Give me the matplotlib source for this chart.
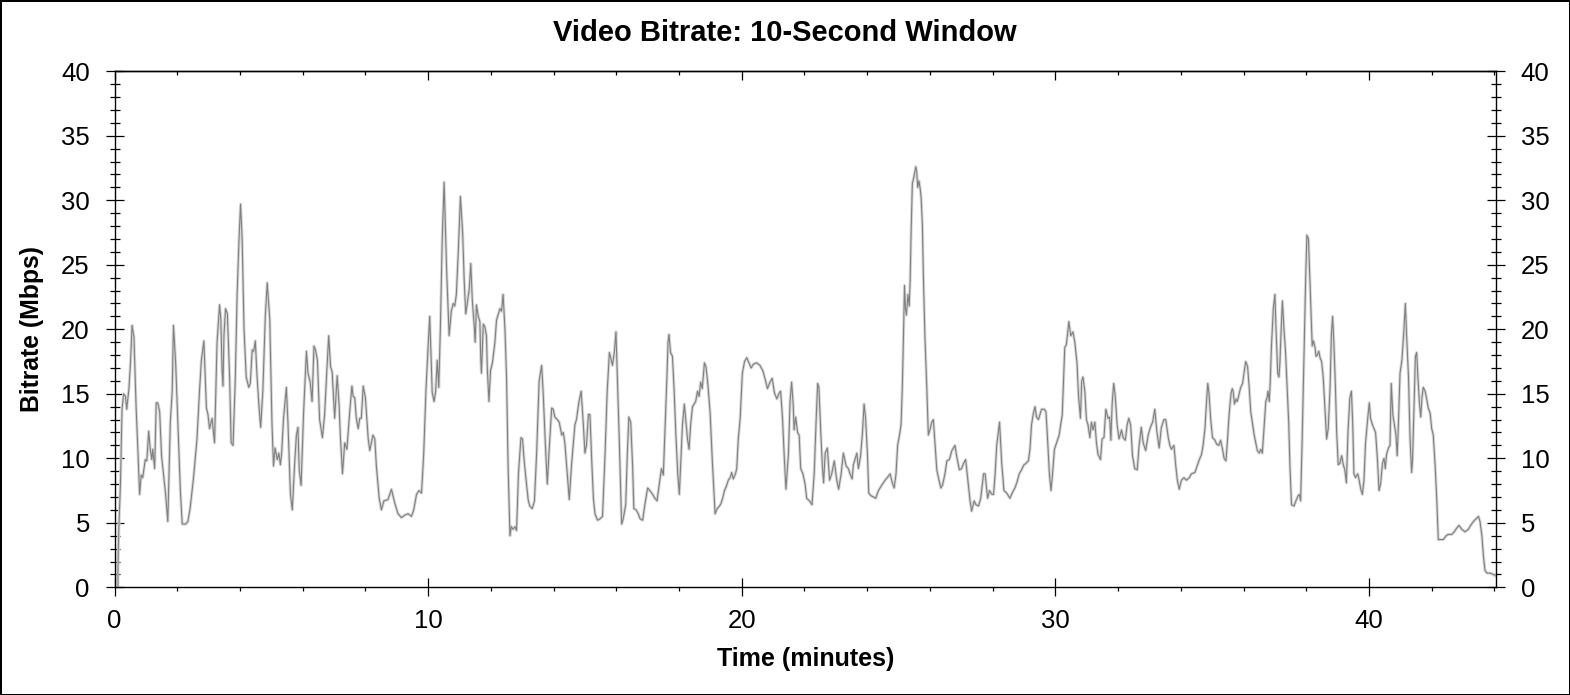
import matplotlib
matplotlib.use("Agg")
import matplotlib.pyplot as plt
from matplotlib.ticker import MultipleLocator

# ---- data ----
time_min = [
    0.11, 0.11, 0.14, 0.19, 0.24, 0.29, 0.35, 0.39, 0.46, 0.51, 0.56, 0.62, 0.69, 0.74, 0.80,
    0.85, 0.90, 0.98, 1.03, 1.09, 1.14, 1.19, 1.22, 1.28, 1.33, 1.38, 1.44, 1.50, 1.56, 1.63,
    1.70, 1.78, 1.84, 1.88, 1.95, 2.02, 2.10, 2.16, 2.27, 2.34, 2.41, 2.52, 2.63, 2.71, 2.77,
    2.85, 2.93, 2.98, 3.03, 3.11, 3.19, 3.27, 3.35, 3.39, 3.43, 3.46, 3.49, 3.54, 3.60, 3.67,
    3.72, 3.78, 3.85, 3.91, 3.97, 4.02, 4.07, 4.13, 4.20, 4.28, 4.33, 4.39, 4.44, 4.49, 4.54,
    4.61, 4.66, 4.73, 4.81, 4.87, 4.95, 5.02, 5.07, 5.12, 5.19, 5.24, 5.29, 5.33, 5.39, 5.48,
    5.53, 5.61, 5.67, 5.74, 5.80, 5.85, 5.89, 5.95, 6.03, 6.12, 6.17, 6.24, 6.30, 6.36, 6.41,
    6.47, 6.54, 6.63, 6.70, 6.76, 6.83, 6.89, 6.94, 7.02, 7.10, 7.16, 7.20, 7.27, 7.34, 7.41,
    7.50, 7.57, 7.61, 7.66, 7.71, 7.77, 7.82, 7.87, 7.93, 8.00, 8.09, 8.14, 8.19, 8.24, 8.30,
    8.35, 8.44, 8.51, 8.59, 8.72, 8.83, 8.94, 9.04, 9.15, 9.26, 9.36, 9.47, 9.54, 9.63, 9.71,
    9.79, 9.86, 9.93, 10.00, 10.05, 10.09, 10.13, 10.19, 10.24, 10.29, 10.34, 10.39, 10.45, 10.51,
    10.59, 10.67, 10.74, 10.80, 10.85, 10.90, 10.96, 11.03, 11.10, 11.15, 11.20, 11.26, 11.31, 11.36,
    11.41, 11.47, 11.50, 11.54, 11.60, 11.65, 11.68, 11.70, 11.76, 11.81, 11.86, 11.89, 11.94, 11.99,
    12.05, 12.13, 12.18, 12.23, 12.29, 12.34, 12.39, 12.45, 12.50, 12.55, 12.61, 12.65, 12.71, 12.77,
    12.82, 12.88, 12.96, 13.01, 13.06, 13.12, 13.19, 13.24, 13.32, 13.39, 13.46, 13.54, 13.62, 13.67,
    13.74, 13.80, 13.86, 13.94, 13.99, 14.04, 14.12, 14.18, 14.26, 14.31, 14.36, 14.41, 14.50, 14.57,
    14.63, 14.68, 14.73, 14.81, 14.88, 14.95, 15.00, 15.05, 15.11, 15.16, 15.21, 15.27, 15.32, 15.40,
    15.48, 15.56, 15.64, 15.71, 15.78, 15.82, 15.88, 15.94, 15.99, 16.04, 16.10, 16.17, 16.22, 16.30,
    16.35, 16.40, 16.46, 16.52, 16.56, 16.63, 16.70, 16.76, 16.84, 16.91, 17.00, 17.07, 17.16, 17.23,
    17.30, 17.37, 17.44, 17.50, 17.55, 17.61, 17.65, 17.68, 17.73, 17.79, 17.84, 17.90, 17.96, 18.01,
    18.06, 18.11, 18.17, 18.21, 18.27, 18.32, 18.37, 18.43, 18.48, 18.53, 18.59, 18.64, 18.69, 18.74,
    18.81, 18.86, 18.91, 18.99, 19.06, 19.15, 19.22, 19.29, 19.34, 19.39, 19.45, 19.52, 19.57, 19.63,
    19.68, 19.73, 19.80, 19.84, 19.89, 19.95, 20.02, 20.09, 20.16, 20.23, 20.30, 20.37, 20.48, 20.58,
    20.67, 20.74, 20.82, 20.90, 20.97, 21.04, 21.12, 21.20, 21.24, 21.30, 21.36, 21.41, 21.49, 21.54,
    21.59, 21.64, 21.67, 21.72, 21.78, 21.83, 21.88, 21.95, 22.02, 22.07, 22.16, 22.24, 22.31, 22.37,
    22.42, 22.46, 22.52, 22.57, 22.61, 22.66, 22.73, 22.80, 22.87, 22.95, 23.03, 23.09, 23.17, 23.24,
    23.33, 23.40, 23.45, 23.52, 23.56, 23.61, 23.67, 23.72, 23.79, 23.85, 23.90, 23.95, 24.01, 24.05,
    24.12, 24.20, 24.27, 24.36, 24.46, 24.57, 24.64, 24.73, 24.80, 24.86, 24.92, 24.97, 25.03, 25.08,
    25.12, 25.15, 25.19, 25.22, 25.25, 25.30, 25.34, 25.37, 25.40, 25.44, 25.48, 25.51, 25.55, 25.58,
    25.61, 25.65, 25.69, 25.72, 25.76, 25.79, 25.84, 25.90, 25.95, 26.01, 26.06, 26.11, 26.16, 26.22,
    26.29, 26.35, 26.40, 26.48, 26.54, 26.62, 26.70, 26.80, 26.85, 26.94, 27.01, 27.07, 27.14, 27.21,
    27.28, 27.33, 27.41, 27.47, 27.55, 27.62, 27.71, 27.76, 27.84, 27.90, 27.98, 28.03, 28.08, 28.13,
    28.22, 28.29, 28.36, 28.45, 28.55, 28.64, 28.71, 28.77, 28.85, 28.92, 29.00, 29.06, 29.14, 29.19,
    29.24, 29.30, 29.35, 29.40, 29.46, 29.51, 29.56, 29.65, 29.70, 29.74, 29.81, 29.86, 29.91, 29.97,
    30.04, 30.12, 30.22, 30.30, 30.35, 30.43, 30.49, 30.56, 30.62, 30.69, 30.74, 30.80, 30.84, 30.88,
    30.94, 30.99, 31.04, 31.10, 31.15, 31.20, 31.26, 31.31, 31.36, 31.44, 31.49, 31.55, 31.61, 31.68,
    31.73, 31.77, 31.81, 31.86, 31.91, 31.97, 32.03, 32.11, 32.16, 32.23, 32.29, 32.34, 32.40, 32.46,
    32.53, 32.61, 32.67, 32.74, 32.80, 32.88, 32.96, 33.03, 33.10, 33.17, 33.24, 33.31, 33.38, 33.46,
    33.52, 33.60, 33.65, 33.70, 33.78, 33.84, 33.89, 33.95, 34.02, 34.10, 34.18, 34.27, 34.34, 34.45,
    34.52, 34.59, 34.66, 34.71, 34.77, 34.82, 34.86, 34.90, 34.95, 35.01, 35.09, 35.14, 35.21, 35.27,
    35.33, 35.38, 35.44, 35.49, 35.54, 35.60, 35.64, 35.67, 35.71, 35.76, 35.80, 35.86, 35.91, 35.97,
    36.02, 36.07, 36.13, 36.18, 36.23, 36.29, 36.34, 36.39, 36.44, 36.50, 36.55, 36.60, 36.66, 36.71,
    36.75, 36.78, 36.82, 36.85, 36.89, 36.95, 37.00, 37.04, 37.09, 37.13, 37.16, 37.20, 37.24, 37.29,
    37.34, 37.39, 37.44, 37.48, 37.53, 37.61, 37.67, 37.74, 37.78, 37.82, 37.87, 37.93, 37.98, 38.02,
    38.07, 38.11, 38.15, 38.19, 38.23, 38.28, 38.31, 38.35, 38.40, 38.44, 38.49, 38.54, 38.60, 38.65,
    38.70, 38.76, 38.80, 38.84, 38.88, 38.93, 38.97, 39.02, 39.07, 39.13, 39.18, 39.23, 39.28, 39.33,
    39.39, 39.44, 39.48, 39.52, 39.57, 39.64, 39.68, 39.73, 39.79, 39.84, 39.89, 39.96, 40.01, 40.05,
    40.11, 40.16, 40.21, 40.27, 40.32, 40.37, 40.43, 40.48, 40.52, 40.56, 40.62, 40.67, 40.71, 40.76,
    40.81, 40.86, 40.90, 40.94, 40.99, 41.05, 41.11, 41.16, 41.20, 41.26, 41.31, 41.36, 41.39, 41.44,
    41.48, 41.52, 41.56, 41.61, 41.65, 41.69, 41.73, 41.79, 41.84, 41.89, 41.95, 42.00, 42.05, 42.11,
    42.16, 42.21, 42.29, 42.37, 42.46, 42.53, 42.64, 42.72, 42.80, 42.87, 42.96, 43.06, 43.17, 43.24,
    43.33, 43.41, 43.49, 43.54, 43.60, 43.65, 43.70, 43.76, 43.86, 43.97, 44.02,
]

bitrate_mbps = [
    0.0, 1.6, 4.7, 8.0, 13.8, 15.0, 14.8, 13.8, 15.4, 17.4, 20.3, 19.4, 13.9, 11.0, 7.2,
    8.7, 8.5, 9.9, 9.8, 12.1, 10.7, 9.9, 10.7, 9.2, 14.3, 14.3, 13.6, 10.2, 8.8, 7.2,
    5.1, 12.8, 15.2, 20.3, 17.4, 12.8, 7.5, 4.9, 4.9, 5.1, 6.1, 8.5, 11.5, 15.2, 17.6,
    19.1, 13.9, 13.4, 12.3, 13.1, 11.2, 19.0, 21.9, 20.8, 16.8, 15.6, 19.5, 21.6, 21.2, 16.3,
    11.2, 11.0, 16.0, 22.7, 27.0, 29.7, 27.0, 20.0, 16.3, 15.5, 15.8, 18.4, 18.3, 19.1, 16.6,
    13.9, 12.4, 15.2, 21.1, 23.6, 20.8, 12.8, 9.4, 10.8, 9.9, 10.4, 9.5, 10.4, 13.1, 15.5,
    12.8, 7.2, 6.0, 9.4, 11.8, 12.4, 9.1, 7.9, 13.6, 18.3, 16.6, 15.9, 14.4, 18.7, 18.4,
    17.6, 13.0, 11.6, 13.4, 16.3, 19.5, 17.1, 16.7, 13.1, 16.4, 14.2, 11.8, 8.8, 11.2, 10.7,
    13.6, 15.6, 14.8, 14.7, 13.1, 12.3, 13.1, 13.1, 15.6, 14.7, 11.5, 10.6, 11.2, 11.8, 11.5,
    9.4, 6.9, 6.0, 6.7, 6.8, 7.6, 6.5, 5.7, 5.4, 5.6, 5.7, 5.5, 6.0, 7.2, 7.5,
    7.3, 10.4, 15.2, 18.7, 21.0, 18.2, 15.1, 14.4, 15.2, 17.6, 15.5, 20.0, 27.0, 31.4,
    24.6, 19.5, 21.4, 22.0, 21.8, 22.7, 25.9, 30.3, 27.5, 23.8, 21.2, 22.2, 23.1, 25.1,
    22.2, 20.3, 19.0, 21.9, 21.0, 20.6, 17.6, 16.6, 20.4, 20.2, 19.5, 16.8, 14.4, 16.8,
    17.4, 19.0, 20.7, 21.1, 21.6, 21.4, 22.7, 20.0, 16.3, 9.4, 4.0, 4.7, 4.5, 4.7,
    4.4, 8.8, 11.6, 11.5, 9.9, 8.4, 6.8, 6.3, 6.1, 6.7, 10.4, 16.0, 17.2, 15.0,
    11.0, 8.0, 10.7, 13.9, 13.8, 13.2, 13.0, 12.8, 11.8, 12.0, 11.2, 9.6, 6.8, 9.4,
    11.2, 12.6, 13.0, 14.4, 15.2, 12.6, 10.4, 11.0, 13.4, 13.4, 10.2, 6.9, 5.7, 5.2,
    5.3, 5.5, 10.2, 15.2, 18.2, 17.8, 17.2, 18.3, 19.8, 15.8, 11.0, 4.9, 5.3, 6.4,
    10.2, 13.2, 12.8, 9.4, 6.1, 6.0, 5.7, 5.3, 5.2, 6.4, 7.7, 7.5, 7.2, 6.9,
    6.7, 8.0, 9.2, 8.7, 12.0, 16.0, 19.0, 19.6, 18.2, 17.9, 15.5, 11.8, 8.8, 7.2,
    9.9, 12.6, 14.2, 13.1, 11.5, 10.7, 12.6, 14.0, 14.2, 14.4, 15.2, 14.8, 15.9, 15.4,
    17.4, 17.1, 16.0, 13.6, 9.9, 5.7, 6.1, 6.3, 6.5, 6.9, 7.5, 7.9, 8.3, 8.5,
    8.9, 8.4, 8.8, 9.2, 11.5, 13.1, 16.6, 17.5, 17.8, 17.4, 17.0, 17.3, 17.4, 17.2,
    16.8, 16.2, 15.4, 15.9, 16.2, 15.1, 14.6, 15.1, 15.2, 13.1, 9.9, 7.6, 10.4, 14.4,
    15.9, 14.2, 12.2, 13.2, 12.0, 11.8, 9.2, 8.8, 8.0, 6.9, 6.7, 6.4, 8.8, 12.8,
    15.8, 15.5, 12.0, 9.4, 8.1, 10.4, 10.8, 8.3, 8.8, 9.8, 8.3, 7.6, 8.8, 10.4,
    9.4, 9.2, 8.8, 8.4, 9.5, 9.9, 10.4, 9.2, 10.2, 12.0, 14.2, 13.1, 10.2, 7.3,
    7.1, 7.0, 6.9, 7.5, 7.9, 8.3, 8.5, 8.8, 8.1, 7.7, 8.8, 11.0, 11.8, 12.6,
    15.5, 18.7, 23.4, 21.6, 21.1, 22.7, 21.8, 23.8, 27.5, 31.3, 31.7, 32.1, 32.6, 32.2,
    31.0, 31.5, 30.9, 30.2, 28.1, 24.3, 19.5, 15.5, 11.8, 12.3, 12.8, 13.0, 11.2, 9.1,
    8.3, 7.7, 7.9, 8.8, 9.8, 9.9, 10.6, 11.0, 10.2, 9.1, 9.2, 9.6, 9.9, 8.3,
    6.7, 5.9, 6.7, 6.4, 6.3, 6.9, 8.8, 8.8, 6.9, 7.5, 7.2, 7.2, 8.8, 11.0,
    12.8, 9.6, 7.5, 7.3, 6.9, 7.4, 7.7, 8.1, 8.8, 9.1, 9.5, 9.6, 9.8, 10.7,
    12.6, 13.5, 14.0, 13.2, 13.0, 13.4, 13.8, 13.8, 13.6, 12.0, 8.8, 7.5, 8.8, 10.7,
    11.2, 11.8, 13.4, 18.6, 18.8, 20.6, 19.5, 19.8, 19.0, 17.4, 14.8, 13.1, 16.0, 16.3,
    15.2, 13.0, 12.6, 11.6, 12.8, 12.2, 12.8, 11.2, 10.3, 9.9, 11.5, 11.6, 13.8, 13.1,
    13.2, 11.4, 14.2, 15.8, 14.8, 12.6, 11.5, 12.2, 11.6, 11.4, 12.6, 13.1, 12.6, 10.2,
    9.2, 9.1, 11.0, 12.4, 11.2, 10.6, 11.8, 12.4, 12.8, 13.8, 12.0, 10.8, 12.4, 13.0,
    13.0, 11.6, 11.0, 10.7, 11.0, 9.4, 8.3, 7.6, 8.3, 8.5, 8.3, 8.5, 8.8, 8.9,
    9.4, 9.9, 10.3, 11.0, 12.3, 14.4, 15.8, 15.0, 13.1, 11.6, 11.4, 11.1, 11.0, 11.4,
    10.7, 10.0, 9.8, 11.5, 13.4, 15.0, 15.4, 15.2, 14.2, 14.6, 14.4, 15.0, 15.5, 15.8,
    16.7, 17.5, 17.1, 15.5, 13.6, 12.6, 11.8, 11.2, 10.6, 10.4, 10.7, 10.4, 12.6, 14.4,
    14.7, 15.2, 14.4, 15.8, 18.7, 21.6, 22.7, 19.8, 16.6, 16.3, 17.4, 20.0, 22.2, 20.0,
    18.2, 15.5, 12.8, 9.4, 6.4, 6.3, 6.7, 7.1, 7.2, 6.7, 11.5, 18.2, 23.8, 27.3,
    27.0, 24.3, 21.6, 18.7, 19.1, 18.6, 17.9, 18.0, 18.3, 17.8, 17.5, 16.3, 13.6, 11.5,
    12.3, 15.5, 19.5, 21.0, 19.0, 15.5, 12.0, 9.5, 9.6, 10.2, 9.5, 9.1, 8.1, 12.0,
    14.7, 15.2, 12.8, 8.8, 8.5, 8.8, 8.4, 7.7, 7.2, 8.3, 11.2, 13.1, 14.3, 13.1,
    12.6, 12.3, 12.0, 9.9, 7.5, 8.0, 9.6, 10.0, 9.2, 10.3, 10.8, 11.0, 15.8, 13.4,
    12.6, 11.8, 10.2, 12.8, 16.6, 17.6, 19.8, 22.0, 19.5, 16.3, 11.5, 8.9, 9.9, 14.2,
    17.9, 18.2, 16.3, 14.2, 13.2, 14.7, 15.5, 15.2, 14.6, 13.9, 13.5, 12.3, 11.8, 9.4,
    6.9, 3.7, 3.7, 3.7, 4.0, 4.1, 4.1, 4.3, 4.6, 4.8, 4.5, 4.3, 4.5, 4.8,
    5.1, 5.3, 5.5, 5.1, 4.0, 2.4, 1.3, 1.1, 1.1, 1.0, 0.9,
]

x_major = [0, 10, 20, 30, 40]
y_major = [0, 5, 10, 15, 20, 25, 30, 35, 40]

title_text = "Video Bitrate: 10-Second Window"
x_label = "Time (minutes)"
y_label = "Bitrate (Mbps)"

# ---- figure ----
FONT = ["Liberation Sans", "DejaVu Sans"]
plt.rcParams["font.family"] = FONT

W, H, DPI = 1570, 695, 100
fig = plt.figure(figsize=(W / DPI, H / DPI), dpi=DPI)
fig.patch.set_facecolor("white")
fig.patch.set_edgecolor("black")
fig.patch.set_linewidth(2.0)

left, right, top, bottom = 114.5 / W, 1496 / W, 71.3 / H, 587.3 / H
ax = fig.add_axes([left, 1 - bottom, right - left, bottom - top])

ax.plot(time_min, bitrate_mbps, color="#d8d8d8", lw=2.2, solid_joinstyle="round", zorder=2)
ax.plot(time_min, bitrate_mbps, color="#808080", lw=0.8, solid_joinstyle="round", zorder=3)

ax.set_xlim(0, 44.05)
ax.set_ylim(0, 40)

for s in ax.spines.values():
    s.set_linewidth(1.0)
    s.set_color("black")

ax.set_xticks(x_major)
ax.set_yticks(y_major)
ax.xaxis.set_minor_locator(MultipleLocator(2))
ax.yaxis.set_minor_locator(MultipleLocator(1))

tick_fs = 18.5
ax.tick_params(axis="y", which="major", direction="inout", length=13.5, width=0.9,
               left=True, right=True, labelleft=True, labelright=True,
               labelsize=tick_fs, pad=11)
ax.tick_params(axis="y", which="minor", direction="inout", length=6.5, width=0.9,
               left=True, right=True)
ax.tick_params(axis="x", which="major", direction="inout", length=13.5, width=0.9,
               bottom=True, top=False, labelsize=tick_fs, pad=9)
ax.tick_params(axis="x", which="minor", direction="out", length=3.0, width=0.9,
               bottom=True, top=False)

sec = ax.secondary_xaxis("top")
sec.set_xticks(x_major)
sec.xaxis.set_minor_locator(MultipleLocator(2))
sec.tick_params(axis="x", which="major", direction="in", length=6.5, width=0.9, labeltop=False)
sec.tick_params(axis="x", which="minor", direction="in", length=3.0, width=0.9)
sec.spines["top"].set_linewidth(1.0)

plot_h = 587.3 - 71.3
plot_w = 1496 - 114.5
ax.set_xlabel(x_label, fontsize=18, fontweight="bold")
ax.xaxis.label.set_va("center")
ax.xaxis.set_label_coords(0.5, -(659 - 587.3) / plot_h)
ax.set_ylabel(y_label, fontsize=17.8, fontweight="bold")
ax.yaxis.label.set_va("center")
ax.yaxis.set_label_coords(-(114.5 - 32) / plot_w, 0.5)
fig.text(0.5, 1 - 33 / H, title_text, ha="center", va="center",
         fontsize=21, fontweight="bold")

fig.savefig("out.png", dpi=DPI, facecolor=fig.get_facecolor(), edgecolor=fig.get_edgecolor())
